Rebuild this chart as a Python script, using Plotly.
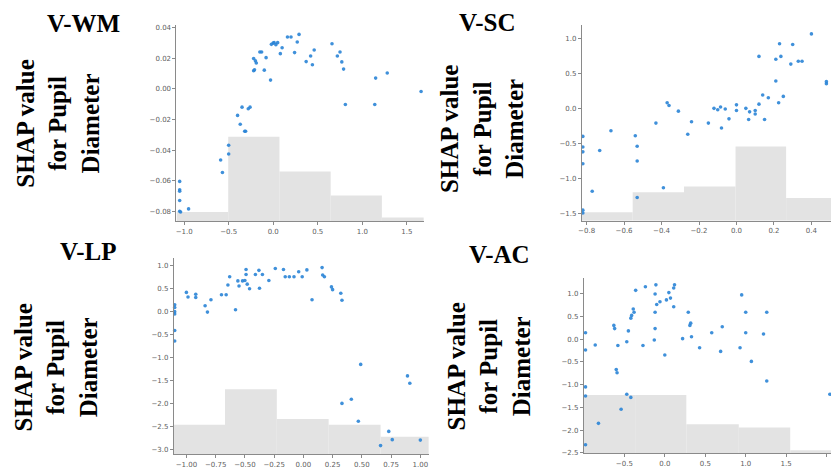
import plotly.graph_objects as go

W, H = 831, 472

# ---------------- data ----------------
# V-WM
wm_x = [-1.05, -1.05, -1.05, -1.05, -1.05, -1.04, -0.95, -0.59, -0.57, -0.50, -0.50, -0.40, -0.37,
        -0.35, -0.32, -0.31, -0.28, -0.26, -0.22, -0.21, -0.22, -0.20, -0.19, -0.15, -0.13, -0.10,
        -0.08, -0.03, -0.02, 0.00, 0.01, 0.03, 0.05, 0.08, 0.10, 0.16, 0.20, 0.24, 0.27, 0.29, 0.37,
        0.42, 0.44, 0.46, 0.66, 0.72, 0.75, 0.77, 0.79, 0.81, 1.14, 1.15, 1.28, 1.66]
wm_y = [-0.0605, -0.066, -0.067, -0.073, -0.080, -0.0805, -0.0785, -0.0465, -0.0547, -0.0368,
        -0.0426, -0.0173, -0.0231, -0.0119, -0.0277, -0.0277, -0.013, -0.0119, 0.0119, 0.0125,
        0.0199, 0.0184, 0.0170, 0.0242, 0.0242, 0.0123, 0.0205, 0.0058, 0.0292, 0.0300, 0.0303,
        0.0290, 0.0303, 0.0231, 0.0270, 0.0340, 0.0340, 0.0238, 0.0307, 0.0357, 0.0179, 0.0216,
        0.0158, 0.0255, 0.0296, 0.0216, 0.0242, 0.0177, 0.0130, -0.0102, -0.0102, 0.0071, 0.0104,
        -0.0017]
wm_bin_edges = [-1.086, -0.505, 0.07, 0.645, 1.22, 1.795]
wm_counts = [5, 46, 27, 14, 2]

# V-SC
sc_x = [-0.82, -0.82, -0.82, -0.82, -0.82, -0.82, -0.77, -0.73, -0.67, -0.54, -0.53, -0.53, -0.53,
        -0.43, -0.39, -0.37, -0.36, -0.31, -0.26, -0.24, -0.15, -0.12, -0.10, -0.085, -0.08, -0.06,
        -0.04, 0.00, 0.00, 0.05, 0.065, 0.07, 0.10, 0.10, 0.12, 0.12, 0.14, 0.15, 0.17, 0.21, 0.21,
        0.225, 0.23, 0.237, 0.25, 0.29, 0.30, 0.33, 0.35, 0.40, 0.48, 0.48]
sc_y = [-0.40, -0.55, -0.62, -0.79, -1.45, -1.49, -1.18, -0.60, -0.32, -0.39, -0.54, -0.75, -1.27,
        -0.21, -1.13, 0.08, 0.04, -0.04, -0.37, -0.19, -0.21, 0.00, -0.02, 0.02, -0.28, -0.01,
        -0.15, 0.05, -0.03, 0.00, -0.16, -0.05, -0.03, -0.08, 0.06, 0.74, 0.19, -0.16, 0.15, 0.39,
        0.70, 0.08, 0.92, 0.74, 0.17, 0.63, 0.91, 0.67, 0.67, 1.06, 0.38, 0.35]
sc_bin_edges = [-0.825, -0.554, -0.280, -0.005, 0.265, 0.54]
sc_counts = [3, 10, 12, 26, 8]

# V-LP
lp_x = [-1.10, -1.10, -1.10, -1.10, -1.10, -1.10, -1.00, -0.986, -0.92, -0.92, -0.84, -0.82, -0.79,
        -0.70, -0.66, -0.645, -0.63, -0.58, -0.56, -0.55, -0.52, -0.50, -0.49, -0.49, -0.48, -0.46,
        -0.41, -0.38, -0.375, -0.35, -0.295, -0.24, -0.17, -0.155, -0.12, -0.08, -0.04, -0.01, 0.03,
        0.074, 0.16, 0.165, 0.18, 0.24, 0.25, 0.32, 0.33, 0.33, 0.41, 0.49, 0.47, 0.66, 0.73, 0.76,
        0.89, 0.91, 1.00]
lp_y = [0.15, 0.09, 0.00, -0.05, -0.41, -0.64, 0.42, 0.32, 0.38, 0.31, 0.13, -0.01, 0.26, 0.37,
        0.37, 0.58, 0.76, 0.04, 0.67, 0.56, 0.67, 0.68, 0.81, 0.92, 0.60, 0.50, 0.81, 0.90, 0.51,
        0.81, 0.68, 0.94, 0.92, 0.76, 0.76, 0.76, 0.87, 0.76, 0.91, 0.26, 0.96, 0.80, 0.76, 0.54,
        0.48, 0.40, 0.25, -2.00, -1.91, -1.15, -2.39, -2.92, -2.61, -2.79, -1.40, -1.56, -2.80]
lp_bin_edges = [-1.107, -0.67, -0.227, 0.216, 0.66, 1.10]
lp_counts = [10, 22, 12, 10, 6]

# V-AC
ac_x = [-0.98, -0.98, -0.98, -0.98, -0.98, -0.86, -0.82, -0.63, -0.62, -0.60, -0.59, -0.58, -0.54,
        -0.47, -0.47, -0.45, -0.42, -0.42, -0.41, -0.39, -0.38, -0.36, -0.27, -0.24, -0.13, -0.12,
        -0.12, -0.12, -0.11, -0.10, -0.06, 0.00, 0.02, 0.05, 0.07, 0.11, 0.11, 0.12, 0.22, 0.29,
        0.31, 0.32, 0.33, 0.43, 0.58, 0.69, 0.71, 0.93, 0.95, 1.00, 1.00, 1.07, 1.22, 1.26, 1.26,
        2.04]
ac_y = [0.14, -0.24, -1.05, -1.25, -2.32, -0.13, -1.85, 0.30, 0.23, -0.67, -0.74, -0.14, -1.54,
        -0.06, -1.21, 0.18, -1.28, 0.46, 0.52, 0.66, 0.59, 1.07, -0.14, 1.15, -0.02, 0.23, 0.99,
        0.59, 1.19, 0.76, 0.82, -0.35, 0.86, 1.02, 0.90, 0.71, 1.12, 1.19, 0.01, 0.59, 0.30, 0.35,
        0.05, -0.19, 0.14, -0.27, 0.27, -0.19, 0.97, 0.59, 0.14, -0.49, 0.11, 0.59, -0.92, -1.21]
ac_bin_edges = [-1.0, -0.367, 0.266, 0.914, 1.55, 2.18]
ac_counts = [18, 18, 9, 8, 1]

# ---------------- layout per panel (pixel boxes) ----------------
panels = [
    dict(name="V-WM", x=wm_x, y=wm_y, edges=wm_bin_edges, counts=wm_counts,
         box=(173.3, 421.7, 25, 223), xr=[-1.086, 1.689], yr=[-0.0865, 0.042], hr=107,
         xt=[-1.0, -0.5, 0.0, 0.5, 1.0, 1.5], xf=".1f",
         yt=[0.04, 0.02, 0.0, -0.02, -0.04, -0.06, -0.08], yf=".2f",
         title=(80, 24), ylab=(54, 124)),
    dict(name="V-SC", x=sc_x, y=sc_y, edges=sc_bin_edges, counts=sc_counts,
         box=(580.7, 831, 25, 222.7), xr=[-0.825, 0.5045], yr=[-1.602, 1.19], hr=68.5,
         xt=[-0.8, -0.6, -0.4, -0.2, 0.0, 0.2, 0.4], xf=".1f",
         yt=[1.0, 0.5, 0.0, -0.5, -1.0, -1.5], yf=".1f",
         title=(485, 22.5), ylab=(480.5, 130)),
    dict(name="V-LP", x=lp_x, y=lp_y, edges=lp_bin_edges, counts=lp_counts,
         box=(170.7, 426.7, 260, 458.3), xr=[-1.107, 1.071], yr=[-3.112, 1.174], hr=66.5,
         xt=[-1.0, -0.75, -0.5, -0.25, 0.0, 0.25, 0.5, 0.75, 1.0], xf=".2f",
         yt=[1.0, 0.5, 0.0, -0.5, -1.0, -1.5, -2.0, -2.5, -3.0], yf=".1f",
         title=(84, 254), ylab=(52, 370)),
    dict(name="V-AC", x=ac_x, y=ac_y, edges=ac_bin_edges, counts=ac_counts,
         box=(582.7, 831, 280, 457.3), xr=[-1.0, 2.054], yr=[-2.51, 1.349], hr=54.1,
         xt=[-0.5, 0.0, 0.5, 1.0, 1.5, 2.0], xf=".1f",
         yt=[1.0, 0.5, 0.0, -0.5, -1.0, -1.5, -2.0, -2.5], yf=".1f",
         title=(498, 257), ylab=(487, 369)),
]

fig = go.Figure()
layout = dict(width=W, height=H, margin=dict(l=0, r=0, t=0, b=0),
              paper_bgcolor="white", plot_bgcolor="rgba(0,0,0,0)", showlegend=False,
              annotations=[])

axis_col = "#8a8a8a"
tick_font = dict(family="DejaVu Sans", size=7, color="#606060")
label_font = dict(family="Liberation Serif", size=25, color="black")

for i, p in enumerate(panels):
    k = i + 1
    hk = k          # histogram axis (base)
    sk = k + 4      # scatter axis (overlay)
    l, r, t, b = p["box"]
    xd = [l / W, r / W]
    yd = [1 - b / H, 1 - t / H]

    edges = p["edges"]
    centers = [(edges[j] + edges[j + 1]) / 2 for j in range(len(edges) - 1)]
    widths = [edges[j + 1] - edges[j] for j in range(len(edges) - 1)]
    fig.add_trace(go.Bar(x=centers, y=p["counts"], width=widths,
                         marker=dict(color="#e3e3e3", line=dict(width=0)),
                         xaxis=f"x{k}", yaxis=f"y{hk}", hoverinfo="skip"))
    fig.add_trace(go.Scatter(x=p["x"], y=p["y"], mode="markers",
                             marker=dict(size=3.6, color="#2a84d6", opacity=0.9),
                             xaxis=f"x{k}", yaxis=f"y{sk}", cliponaxis=False))

    layout[f"xaxis{k}"] = dict(domain=xd, range=p["xr"], anchor=f"y{hk}",
                               showline=True, linecolor=axis_col, linewidth=1,
                               ticks="outside", ticklen=3, tickcolor=axis_col,
                               tickvals=p["xt"], tickformat=p["xf"], tickfont=tick_font,
                               showgrid=False, zeroline=False)
    layout[f"yaxis{hk}"] = dict(domain=yd, range=[0, p["hr"]], visible=False,
                                anchor=f"x{k}", showgrid=False, zeroline=False)
    layout[f"yaxis{sk}"] = dict(overlaying=f"y{hk}", side="left", anchor=f"x{k}",
                                range=p["yr"], showline=True, linecolor=axis_col, linewidth=1,
                                ticks="outside", ticklen=3, tickcolor=axis_col,
                                tickvals=p["yt"], tickformat=p["yf"], tickfont=tick_font,
                                showgrid=False, zeroline=False)

    tx, ty = p["title"]
    layout["annotations"].append(dict(text=f"<b>{p['name']}</b>", x=tx / W, y=1 - ty / H,
                                      xref="paper", yref="paper", xanchor="center",
                                      yanchor="middle", showarrow=False, font=label_font))
    lx, ly = p["ylab"]
    layout["annotations"].append(dict(text="<b>SHAP value<br>for Pupil<br>Diameter</b>",
                                      x=lx / W, y=1 - ly / H, xref="paper", yref="paper",
                                      xanchor="center", yanchor="middle", textangle=-90,
                                      showarrow=False, align="center", font=label_font))

fig.update_layout(**layout)
fig.write_html("out.html")
